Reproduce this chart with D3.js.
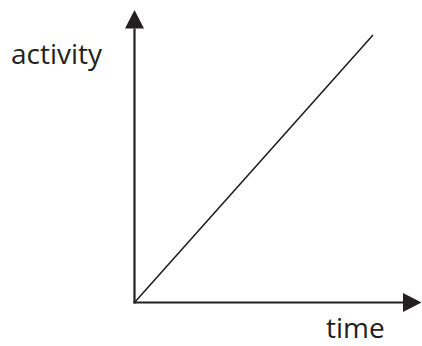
<!DOCTYPE html>
<html>
<head>
<meta charset="utf-8">
<script src="https://cdn.jsdelivr.net/npm/d3@7"></script>
<style>
html,body{margin:0;padding:0;background:#fff;}
svg{display:block;}
</style>
</head>
<body>
<svg id="chart" width="422" height="346"></svg>
<script>
// Data
const xLabel = "time";
const yLabel = "activity";
const timeValues = [0, 1];
const activityValues = [0, 1];

const svg = d3.select("#chart");
const ink = "#231f20";

const x = d3.scaleLinear().domain([0, 1]).range([134.5, 373]);
const y = d3.scaleLinear().domain([0, 1]).range([302.5, 35]);

// arrow markers
const defs = svg.append("defs");
defs.append("marker")
  .attr("id", "arrow")
  .attr("viewBox", "0 0 10 10")
  .attr("refX", 0).attr("refY", 5)
  .attr("markerUnits", "userSpaceOnUse")
  .attr("markerWidth", 18.5).attr("markerHeight", 19)
  .attr("orient", "auto")
  .attr("preserveAspectRatio", "none")
  .append("path")
  .attr("d", "M0,0 L10,5 L0,10 Z")
  .attr("fill", ink);

// x axis
svg.append("line")
  .attr("x1", x(0) - 1).attr("y1", y(0))
  .attr("x2", 403).attr("y2", y(0))
  .attr("stroke", ink).attr("stroke-width", 2.2)
  .attr("marker-end", "url(#arrow)");

// y axis
svg.append("line")
  .attr("x1", x(0)).attr("y1", y(0) + 1)
  .attr("x2", x(0)).attr("y2", 28.5)
  .attr("stroke", ink).attr("stroke-width", 2.2)
  .attr("marker-end", "url(#arrow)");

// data line
const pts = timeValues.map((t, i) => [t, activityValues[i]]);
svg.append("path")
  .datum(pts)
  .attr("d", d3.line().x(d => x(d[0])).y(d => y(d[1])))
  .attr("fill", "none")
  .attr("stroke", ink)
  .attr("stroke-width", 1.6);

// labels
svg.append("text")
  .attr("x", 11).attr("y", 64)
  .attr("font-family", "'Open Sans', sans-serif")
  .attr("font-size", 28)
  .attr("fill", ink)
  .text(yLabel);

svg.append("text")
  .attr("x", 326).attr("y", 338)
  .attr("font-family", "'Open Sans', sans-serif")
  .attr("font-size", 28)
  .attr("fill", ink)
  .text(xLabel);
</script>
</body>
</html>
